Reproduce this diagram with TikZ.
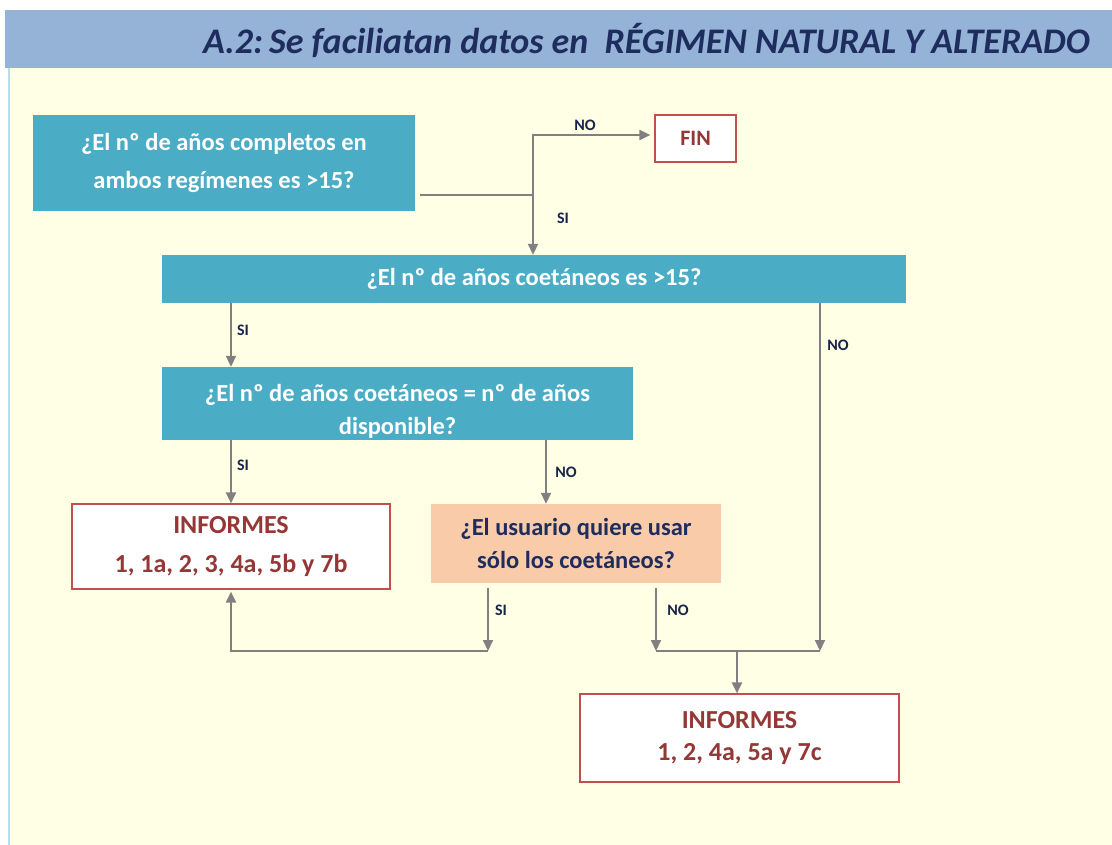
\documentclass[tikz,border=0pt]{standalone}
\usepackage{fontspec}
\setmainfont{Carlito}
\usetikzlibrary{arrows.meta}
\definecolor{band}{HTML}{95B3D7}
\definecolor{cream}{HTML}{FFFFE6}
\definecolor{teal}{HTML}{4BACC6}
\definecolor{peach}{HTML}{FACBA8}
\definecolor{redline}{HTML}{C0504D}
\definecolor{redtxt}{HTML}{953735}
\definecolor{navy}{HTML}{1F2D5E}
\definecolor{conncol}{HTML}{808080}
\tikzset{
  x=1pt,y=-1pt,
  qbox/.style={fill=teal,draw=none,text=white,font=\bfseries\fontsize{24.5}{38}\selectfont,align=center,inner sep=0pt},
  rbox/.style={fill=white,draw=redline,line width=1.2pt,text=redtxt,font=\bfseries\fontsize{26}{39}\selectfont,align=center,inner sep=0pt},
  pbox/.style={fill=peach,draw=none,text=navy,font=\bfseries\fontsize{24.5}{33}\selectfont,align=center,inner sep=0pt},
  conn/.style={draw=conncol,line width=2pt},
  arr/.style={conn,-{Triangle[length=11pt,width=10pt]}},
  lbl/.style={font=\bfseries\fontsize{16}{18}\selectfont,text=navy!80!black,inner sep=0pt}
}
\begin{document}
\begin{tikzpicture}
\useasboundingbox (0,0) rectangle (1112,845);
\fill[white] (0,0) rectangle (1112,845);
\fill[cream] (8,68) rectangle (1112,845);
\draw[teal!40,line width=1.2pt] (9,68) -- (9,845);
\fill[band] (5,10) rectangle (1112,68);
\node[anchor=east,text=navy,font=\bfseries\itshape\fontsize{36}{40}\selectfont,inner sep=0pt] (title) at (1090,40) {A.2:\,Se faciliatan datos en \ RÉGIMEN NATURAL Y ALTERADO};

% boxes
\node[qbox,minimum width=382,minimum height=96] (b1) at (224,163) {¿El nº de años completos en\\ambos regímenes es >15?};
\node[rbox,minimum width=81,minimum height=47,font=\bfseries\fontsize{22}{24}\selectfont] (fin) at (695.5,138.5) {FIN};
\node[qbox,minimum width=744,minimum height=48] (b2) at (534,279) {¿El nº de años coetáneos es >15?};
\node[qbox,minimum width=471,minimum height=73] (b3) at (397.5,403.5) {};
\begin{scope}
\clip (b3.south west) rectangle (b3.north east);
\node[text=white,font=\bfseries\fontsize{24.5}{33}\selectfont,align=center,inner sep=0pt] (b3t) at (397.5,411) {¿El nº de años coetáneos = nº de años\\disponible?};
\end{scope}
\node[rbox,minimum width=318,minimum height=85] (b4) at (231,546.5) {INFORMES\\1, 1a, 2, 3, 4a, 5b y 7b};
\node[pbox,minimum width=290,minimum height=79] (b5) at (576,543.5) {¿El usuario quiere usar\\sólo los coetáneos?};
\node[rbox,minimum width=319,minimum height=88,font=\bfseries\fontsize{26}{32}\selectfont] (b6) at (739.5,738) {INFORMES\\1, 2, 4a, 5a y 7c};

% coordinates
\coordinate (xa) at (231,0);
\coordinate (xb) at (546,0);
\coordinate (xc) at (820,0);
\coordinate (xd) at (488,0);
\coordinate (xe) at (656,0);
\coordinate (j1) at (533,195);
\coordinate (b1o) at (420,195);
\coordinate (j3) at (820,651);
\coordinate (j4) at (488,651);
\coordinate (j5) at (656,651);
\coordinate (j6) at (737,651);

% connectors
\draw[conn] (b1o) -- (j1);
\draw[arr] (j1) -- (j1 |- b2.north);
\draw[arr] (j1) |- ([xshift=-4pt,yshift=3.5pt]fin.west);
\draw[arr] (b2.south -| xa) -- (b3.north -| xa);
\draw[arr] (b2.south -| xc) -- (j3);
\draw[arr] (b3.south -| xa) -- (b4.north -| xa);
\draw[arr] (b3.south -| xb) -- (b5.north -| xb);
\draw[arr] ([yshift=-5pt]b5.south -| xd) -- (j4);
\draw[arr] (j4) -| ([yshift=-2pt]b4.south -| xa);
\draw[arr] ([yshift=-5pt]b5.south -| xe) -- (j5);
\draw[conn] (j5) -- (j3);
\draw[arr] (j6) -- (b6.north -| j6);

% labels
\node[lbl] (l1) at (585,125) {NO};
\node[lbl] (l2) at (563,218) {SI};
\node[lbl] (l3) at (243,330) {SI};
\node[lbl] (l4) at (838,345) {NO};
\node[lbl] (l5) at (243,465) {SI};
\node[lbl] (l6) at (566,472) {NO};
\node[lbl] (l7) at (501,610) {SI};
\node[lbl] (l8) at (678,610) {NO};
\end{tikzpicture}
\end{document}
